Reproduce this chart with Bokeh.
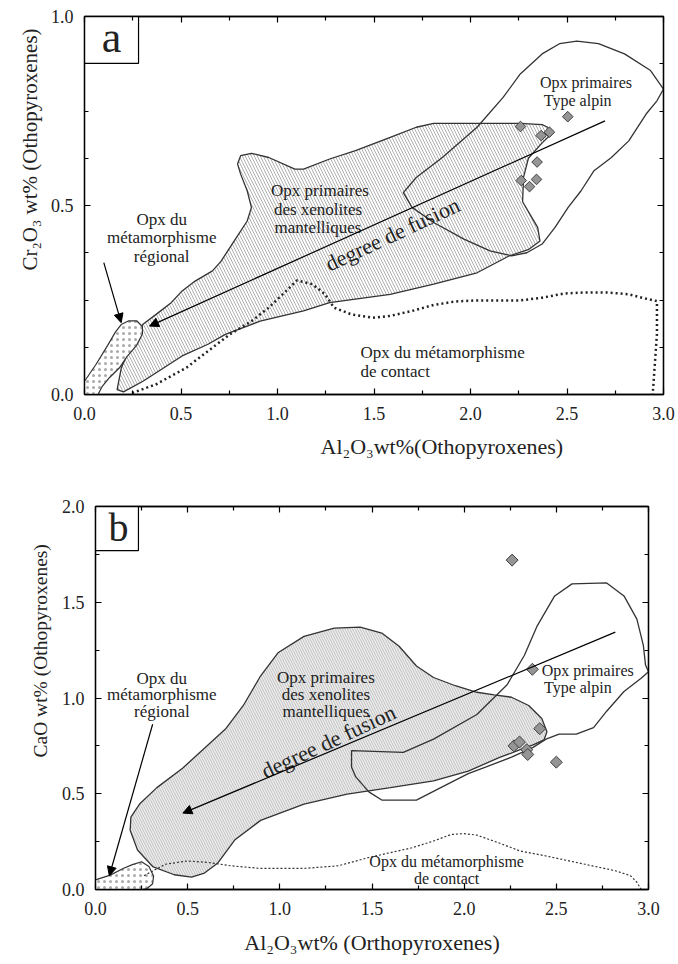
import math
from bokeh.plotting import figure
from bokeh.models import Range1d, FixedTicker, LinearAxis, Arrow, NormalHead, Title, PrintfTickFormatter, Spacer
from bokeh.layouts import column, row
from bokeh.embed import file_html
from bokeh.resources import INLINE
from bokeh.core.properties import value

FONT = "Liberation Serif"
LINE = "#333333"

# ---------------- Panel a : Cr2O3 vs Al2O3 ----------------
a_xeno_x = [2.42, 2.40, 2.371, 2.258, 1.809, 1.719, 1.584, 1.404, 1.270, 1.135, 1.090, 0.955, 0.865, 0.809, 0.793,
            0.809, 0.843, 0.865, 0.843, 0.775, 0.708, 0.663, 0.573, 0.506, 0.449, 0.371, 0.303, 0.236, 0.191,
            0.169, 0.202, 0.303, 0.506, 0.640, 0.730, 0.910, 1.135, 1.270, 1.584, 1.809, 2.034, 2.202, 2.303,
            2.360, 2.348, 2.27, 2.275, 2.30, 2.37]
a_xeno_y = [0.69, 0.707, 0.714, 0.717, 0.717, 0.707, 0.680, 0.645, 0.623, 0.596, 0.596, 0.627, 0.638, 0.632, 0.610,
            0.583, 0.539, 0.495, 0.459, 0.406, 0.353, 0.327, 0.300, 0.274, 0.243, 0.212, 0.186, 0.124, 0.071,
            0.013, 0.007, 0.035, 0.102, 0.133, 0.159, 0.194, 0.221, 0.243, 0.265, 0.292, 0.322, 0.367, 0.384,
            0.406, 0.442, 0.51, 0.575, 0.625, 0.665]

a_alp_x = [1.652, 1.719, 1.854, 2.034, 2.169, 2.258, 2.371, 2.461, 2.551, 2.663, 2.798, 2.933, 3.0, 2.966,
           2.910, 2.820, 2.730, 2.640, 2.573, 2.506, 2.438, 2.371, 2.292, 2.213, 2.101, 1.966, 1.809, 1.697]
a_alp_y = [0.534, 0.574, 0.627, 0.707, 0.786, 0.848, 0.901, 0.928, 0.935, 0.928, 0.901, 0.857, 0.808, 0.777,
           0.742, 0.671, 0.627, 0.592, 0.539, 0.495, 0.442, 0.398, 0.375, 0.367, 0.380, 0.411, 0.455, 0.495]

a_reg_x = [0.0, 0.06, 0.12, 0.16, 0.19, 0.23, 0.27, 0.30, 0.30, 0.27, 0.22, 0.18, 0.13, 0.09, 0.07, 0.0]
a_reg_y = [0.035, 0.08, 0.13, 0.165, 0.185, 0.195, 0.195, 0.18, 0.16, 0.13, 0.10, 0.07, 0.045, 0.02, 0.0, 0.0]

a_con_x = [0.247, 0.371, 0.528, 0.640, 0.753, 0.865, 0.955, 1.045, 1.101, 1.180, 1.247, 1.292, 1.382, 1.494,
           1.584, 1.697, 1.809, 1.921, 2.034, 2.258, 2.371, 2.483, 2.596, 2.708, 2.820, 2.888, 2.966, 2.966, 2.944]
a_con_y = [0.004, 0.027, 0.071, 0.115, 0.159, 0.194, 0.230, 0.274, 0.302, 0.292, 0.265, 0.230, 0.212, 0.203,
           0.208, 0.221, 0.237, 0.246, 0.249, 0.249, 0.256, 0.267, 0.270, 0.270, 0.265, 0.256, 0.247, 0.16, 0.0]

a_pts_x = [2.504, 2.259, 2.366, 2.409, 2.345, 2.342, 2.263, 2.306]
a_pts_y = [0.735, 0.709, 0.685, 0.694, 0.615, 0.569, 0.566, 0.550]

a_fusion_arrow = [2.697, 0.724, 0.337, 0.181]   # x_start, y_start, x_end, y_end
a_reg_arrow = [0.10, 0.349, 0.19, 0.19]

# ---------------- Panel b : CaO vs Al2O3 ----------------
b_xeno_x = [0.521, 0.427, 0.310, 0.228, 0.188, 0.192, 0.239, 0.333, 0.474, 0.591, 0.708, 0.802, 0.896, 0.990,
            1.131, 1.295, 1.436, 1.553, 1.647, 1.741, 1.834, 1.952, 2.069, 2.163, 2.257, 2.350, 2.421, 2.449,
            2.433, 2.374, 2.304, 2.186, 2.022, 1.834, 1.600, 1.365, 1.131, 0.896, 0.755, 0.662, 0.591]
b_xeno_y = [0.065, 0.077, 0.120, 0.206, 0.309, 0.378, 0.446, 0.532, 0.635, 0.738, 0.841, 0.961, 1.116, 1.236,
            1.322, 1.365, 1.370, 1.339, 1.270, 1.167, 1.107, 1.064, 1.030, 1.016, 1.004, 0.961, 0.893, 0.824,
            0.781, 0.755, 0.730, 0.687, 0.618, 0.567, 0.532, 0.498, 0.446, 0.361, 0.258, 0.137, 0.086]

b_alp_x = [1.389, 1.670, 1.834, 2.069, 2.233, 2.327, 2.397, 2.491, 2.585, 2.773, 2.867, 2.937, 2.972, 2.984,
           3.0, 2.960, 2.867, 2.773, 2.702, 2.608, 2.515, 2.444, 2.374, 2.257, 2.116, 2.022, 1.881, 1.741,
           1.553, 1.483, 1.412, 1.389]
b_alp_y = [0.725, 0.716, 0.785, 0.914, 1.069, 1.223, 1.378, 1.533, 1.596, 1.601, 1.533, 1.412, 1.275, 1.172,
           1.137, 1.103, 1.034, 0.931, 0.845, 0.811, 0.811, 0.785, 0.742, 0.691, 0.639, 0.605, 0.536, 0.467,
           0.467, 0.510, 0.588, 0.639]

b_reg_x = [0.0, 0.08, 0.15, 0.20, 0.25, 0.29, 0.315, 0.31, 0.28, 0.25, 0.0]
b_reg_y = [0.05, 0.075, 0.11, 0.13, 0.145, 0.12, 0.07, 0.03, 0.005, 0.0, 0.0]

b_con_x = [0.263, 0.380, 0.497, 0.615, 0.732, 0.896, 1.131, 1.318, 1.483, 1.717, 1.834, 1.928, 1.999, 2.069,
           2.186, 2.304, 2.444, 2.655, 2.820, 2.902, 2.937, 2.960]
b_con_y = [0.072, 0.132, 0.149, 0.141, 0.124, 0.110, 0.110, 0.124, 0.167, 0.218, 0.253, 0.287, 0.292, 0.284,
           0.244, 0.201, 0.175, 0.132, 0.098, 0.072, 0.038, 0.0]

b_pts_x = [2.26, 2.37, 2.41, 2.27, 2.30, 2.34, 2.345, 2.50]
b_pts_y = [1.72, 1.15, 0.84, 0.75, 0.77, 0.73, 0.705, 0.665]

b_fusion_arrow = [2.820, 1.344, 0.474, 0.399]
b_reg_arrow = [0.310, 0.863, 0.075, 0.072]

x_major = [0.0, 0.5, 1.0, 1.5, 2.0, 2.5, 3.0]
x_minor = [0.25, 0.75, 1.25, 1.75, 2.25, 2.75]
a_y_major = [0.0, 0.5, 1.0]
a_y_minor = [0.125, 0.25, 0.375, 0.625, 0.75, 0.875]
b_y_major = [0.0, 0.5, 1.0, 1.5, 2.0]
b_y_minor = [0.25, 0.75, 1.25, 1.75]


def style_axis(ax, major, minor, labels, standoff=11):
    ax.ticker = FixedTicker(ticks=major, minor_ticks=minor)
    ax.major_tick_in = 6
    ax.major_tick_out = 0
    ax.minor_tick_in = 4
    ax.minor_tick_out = 0
    ax.axis_line_color = "black"
    ax.axis_line_width = 1.3
    ax.major_tick_line_color = "black"
    ax.major_tick_line_width = 1.2
    ax.minor_tick_line_color = "black"
    ax.minor_tick_line_width = 1.2
    ax.major_label_text_font = FONT
    ax.major_label_text_color = "#222222"
    if labels:
        ax.formatter = PrintfTickFormatter(format="%.1f")
        ax.major_label_text_font_size = "18px"
        ax.major_label_standoff = standoff
    else:
        ax.major_label_text_font_size = "0px"
        ax.major_label_standoff = 0
        ax.major_label_overrides = {t: "" for t in major}


def make_fig(w, h, bl, br, bt, bb, ymax, y_major, y_minor):
    p = figure(width=w, height=h, min_border_left=bl, min_border_right=br,
               min_border_top=bt, min_border_bottom=bb,
               x_range=Range1d(0, 3), y_range=Range1d(0, ymax),
               output_backend="svg", toolbar_location=None)
    p.xgrid.visible = False
    p.ygrid.visible = False
    p.outline_line_color = "black"
    p.outline_line_width = 1.3
    p.background_fill_color = "white"
    p.border_fill_color = "white"
    style_axis(p.xaxis[0], x_major, x_minor, True, standoff=12)
    style_axis(p.yaxis[0], y_major, y_minor, True, standoff=11)
    top = LinearAxis()
    right = LinearAxis()
    p.add_layout(top, "above")
    p.add_layout(right, "right")
    style_axis(top, x_major, x_minor, False)
    style_axis(right, y_major, y_minor, False)
    return p


def txt(p, xs, ys, texts, size, align="center", angle=0.0, style="normal"):
    p.text(x=xs, y=ys, text=texts, text_font=value(FONT), text_font_size=value(size),
           text_align=align, text_baseline="middle", angle=angle, text_color="#222222",
           text_font_style=style)


def arrow(p, a):
    p.add_layout(Arrow(end=NormalHead(size=9, fill_color="black", line_color="black"),
                       x_start=a[0], y_start=a[1], x_end=a[2], y_end=a[3],
                       line_color="black", line_width=1.2))


def title(p, side, text, size, align, offset, standoff, style="normal"):
    p.add_layout(Title(text=text, align=align, offset=offset, standoff=standoff,
                       text_font=FONT, text_font_size=size, text_font_style=style,
                       text_color="#222222"), side)


# ---------------- build panel a ----------------
# frame: 579 x 378, left 84, top 16
pa = make_fig(678, 470, 84, 15, 16, 76, 1.0, a_y_major, a_y_minor)
pa.patch(a_xeno_x, a_xeno_y, fill_color="white", hatch_pattern="left_diagonal_line", hatch_color="#9a9a9a",
         hatch_scale=6, hatch_weight=0.8, line_color=LINE, line_width=1.3)
pa.patch(a_reg_x, a_reg_y, fill_color="white", hatch_pattern="dot", hatch_color="#aaaaaa",
         hatch_scale=6, line_color=LINE, line_width=1.2)
pa.patch(a_alp_x, a_alp_y, fill_alpha=0, line_color=LINE, line_width=1.3)
pa.line(a_con_x, a_con_y, line_color="#222222", line_width=2.5, line_dash="2 3")
arrow(pa, a_fusion_arrow)
arrow(pa, a_reg_arrow)
pa.scatter(a_pts_x, a_pts_y, marker="square", angle=math.pi / 4, size=7.5,
           fill_color="#959595", line_color="#404040", line_width=1)

txt(pa, [2.36, 2.38], [0.826, 0.777], ["Opx primaires", "Type alpin"], "16px", align="left")
txt(pa, [1.22, 1.21, 1.21], [0.539, 0.490, 0.442], ["Opx primaires", "des xenolites", "mantelliques"], "17px")
txt(pa, [0.40, 0.40, 0.40], [0.464, 0.415, 0.364], ["Opx du", "métamorphisme", "régional"], "17px")
txt(pa, [1.43, 1.43], [0.110, 0.062], ["Opx du métamorphisme", "de contact"], "17px", align="left")
txt(pa, [1.596], [0.424], ["degree de fusion"], "22px", angle=math.radians(25))

pa.quad(left=[0.0], right=[0.28], bottom=[0.876], top=[1.0], fill_color="white",
        line_color="black", line_width=1.2)
txt(pa, [0.14], [0.945], ["a"], "44px")

title(pa, "below", "Al₂O₃wt%(Othopyroxenes)", "22px", "left", 236, 19)
title(pa, "left", "Cr₂O₃ wt% (Othopyroxenes)", "21px", "left", 124, 12)

# ---------------- build panel b ----------------
# frame: 553 x 388, left 95 (11 spacer + 84), top 506
pb = make_fig(667, 494, 84, 30, 36, 70, 2.0, b_y_major, b_y_minor)
pb.patch(b_xeno_x, b_xeno_y, fill_color="#eeeeee", hatch_pattern="left_diagonal_line", hatch_color="#a0a0a0",
         hatch_scale=5, hatch_weight=0.6, line_color=LINE, line_width=1.3)
pb.patch(b_reg_x, b_reg_y, fill_color="white", hatch_pattern="dot", hatch_color="#aaaaaa",
         hatch_scale=6, line_color=LINE, line_width=1.2)
pb.patch(b_alp_x, b_alp_y, fill_alpha=0, line_color=LINE, line_width=1.3)
pb.line(b_con_x, b_con_y, line_color="#333333", line_width=1.2, line_dash="2 2")
arrow(pb, b_fusion_arrow)
arrow(pb, b_reg_arrow)
pb.scatter(b_pts_x, b_pts_y, marker="square", angle=math.pi / 4, size=8.5,
           fill_color="#959595", line_color="#404040", line_width=1)

txt(pb, [0.36, 0.36, 0.36], [1.103, 1.017, 0.928], ["Opx du", "métamorphisme", "régional"], "17px")
txt(pb, [1.25, 1.25, 1.25], [1.107, 1.017, 0.928], ["Opx primaires", "des xenolites", "mantelliques"], "17px")
txt(pb, [1.264], [0.773], ["degree de fusion"], "22px", angle=math.radians(25))
txt(pb, [2.421, 2.433], [1.143, 1.055], ["Opx primaires", "Type alpin"], "16px", align="left")
txt(pb, [1.905, 1.905], [0.144, 0.055], ["Opx du métamorphisme", "de contact"], "16px")

pb.quad(left=[0.0], right=[0.233], bottom=[1.77], top=[2.0], fill_color="white",
        line_color="black", line_width=1.2)
txt(pb, [0.125], [1.89], ["b"], "40px")

title(pb, "below", "Al₂O₃wt% (Orthopyroxenes)", "22px", "center", 0, 20)
title(pb, "left", "CaO  wt% (Othopyroxenes)", "19.5px", "left", 132, 15)

layout = column(pa, row(Spacer(width=11, height=494), pb))
open("out.html", "w").write(file_html(layout, INLINE))
